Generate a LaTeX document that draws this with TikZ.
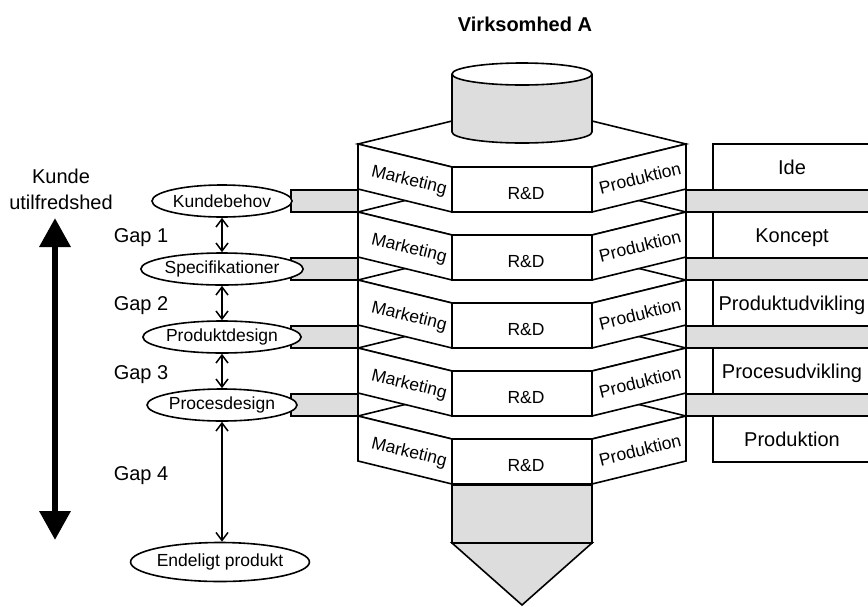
\documentclass[tikz,border=0pt]{standalone}
\usepackage{fontspec}
\setmainfont{Liberation Sans}
\usetikzlibrary{arrows.meta,shapes.geometric}
\definecolor{barfill}{RGB}{221,221,221}
\begin{document}
\begin{tikzpicture}[x=1pt,y=-1pt,
  outline/.style={draw=black,line width=1.6pt,line join=miter},
  face/.style={outline,fill=white},
  greyface/.style={outline,fill=barfill},
  lbl/.style={font=\fontsize{17.5}{21}\selectfont,inner sep=0pt},
  biglbl/.style={font=\fontsize{20}{26}\selectfont,inner sep=0pt},
  stage/.style={ellipse,draw,line width=1.6pt,fill=white,minimum width=140pt,
    minimum height=32pt,inner sep=0pt,font=\fontsize{17.5}{21}\selectfont},
  gaparrow/.style={line width=1.5pt,
    {Straight Barb[length=8pt,width=12pt]}-{Straight Barb[length=8pt,width=12pt]}},
  bigarrow/.style={line width=6.5pt,
    {Triangle[length=29pt,width=30pt]}-{Triangle[length=29pt,width=30pt]}}
]
\useasboundingbox (0,0) rectangle (868,606);

% title
\node[font=\bfseries\fontsize{20}{24}\selectfont,inner sep=0pt] (title) at (525,24) {Virksomhed A};

% grey pieces under the stack
\draw[greyface] (452,485) rectangle (592,543);
\draw[greyface] (452,543) -- (592,543) -- (522,605) -- cycle;

% the stacked layers, bottom one first
\foreach \k/\stagename in {5/Produktion,4/Procesudvikling,3/Produktudvikling,2/Koncept,1/Ide}{
  \pgfmathsetmacro\T{144+68*(\k-1)}
  \draw[face] (358,\T) -- (452,{\T-23}) -- (592,{\T-23}) -- (686,\T)
     -- (592,{\T+23}) -- (452,{\T+23}) -- cycle;
  \draw[face] (358,\T) -- (452,{\T+23}) -- (452,{\T+68}) -- (358,{\T+45}) -- cycle;
  \draw[face] (452,{\T+23}) rectangle (592,{\T+68});
  \draw[face] (592,{\T+23}) -- (686,\T) -- (686,{\T+45}) -- (592,{\T+68}) -- cycle;
  \node[lbl,rotate=-13.8] (mk\k) at (409,{\T+37}) {Marketing};
  \node[lbl,anchor=base] (rd\k) at (526,{\T+55.5}) {R\&D};
  \node[lbl,rotate=13.8] (pr\k) at (640,{\T+34}) {Produktion};
  % step box on the right
  \draw[outline] (713,\T) rectangle (880,{\T+46});
  \node[biglbl,anchor=base] (st\k) at (792,{\T+30.5}) {\stagename};
}

% grey bars between the layers
\foreach \k in {1,...,4}{
  \pgfmathsetmacro\T{144+68*(\k-1)}
  \draw[greyface] (291,{\T+46}) rectangle (358,{\T+68});
  \draw[greyface] (686,{\T+46}) rectangle (880,{\T+68});
}

% cylinder on top
\draw[greyface] (522,132) ellipse [x radius=70pt, y radius=11pt];
\fill[barfill] (452,74) rectangle (592,132);
\draw[outline] (452,74) -- (452,132);
\draw[outline] (592,74) -- (592,132);
\draw[face] (522,74) ellipse [x radius=70pt, y radius=11pt];

% design stages
\node[stage] (kb) at (222,201) {Kundebehov};
\node[stage] (sp) at (222,269) {Specifikationer};
\node[stage] (pd) at (222,337) {Produktdesign};
\node[stage] (pc) at (222,405) {Procesdesign};
\node[stage,minimum width=152pt,minimum height=39pt] (ep) at (220,562) {Endeligt produkt};

\draw[gaparrow] (kb) -- (sp);
\draw[gaparrow] (sp) -- (pd);
\draw[gaparrow] (pd) -- (pc);
\draw[gaparrow] (pc.south) -- (pc.south |- ep.north);

\node[biglbl,anchor=base] (g1) at (141,242) {Gap 1};
\node[biglbl,anchor=base] (g2) at (141,310) {Gap 2};
\node[biglbl,anchor=base] (g3) at (141,379) {Gap 3};
\node[biglbl,anchor=base] (g4) at (141,480) {Gap 4};

% customer dissatisfaction scale
\node[biglbl,align=center] (ku) at (61,189) {Kunde\\utilfredshed};
\coordinate (scaletop) at (55,218);
\coordinate (scalebot) at (55,540);
\draw[bigarrow] (scaletop) -- (scalebot);
\end{tikzpicture}
\end{document}
